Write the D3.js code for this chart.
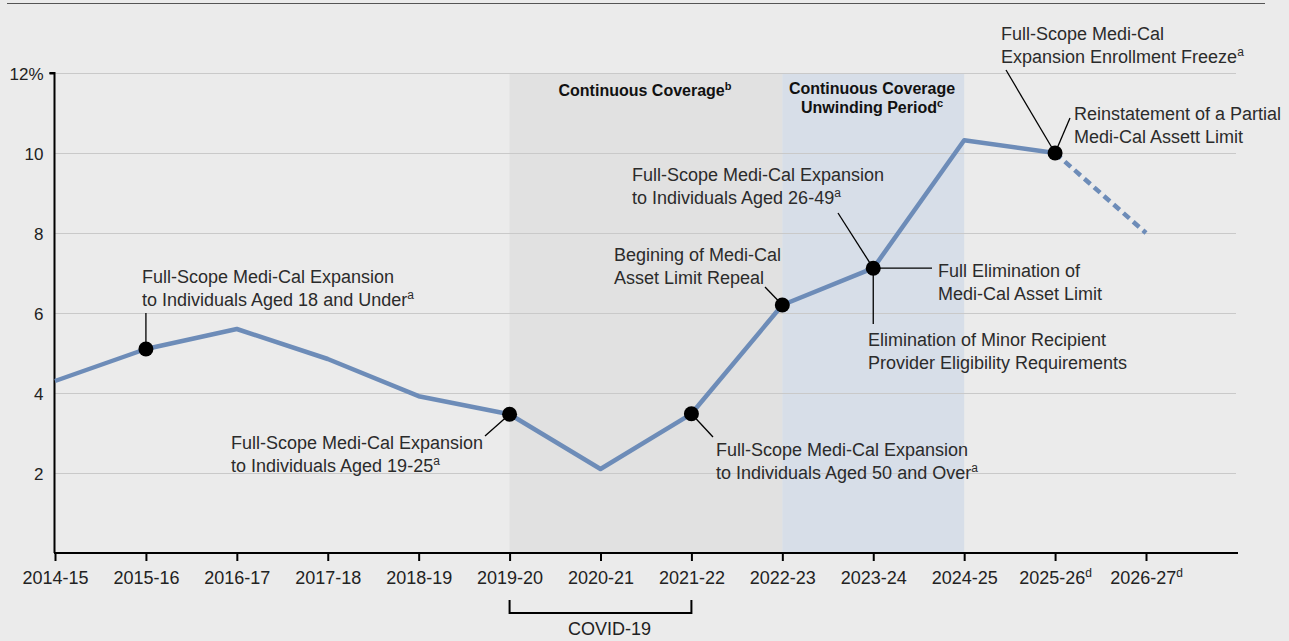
<!DOCTYPE html>
<html lang="en">
<head>
<meta charset="UTF-8">
<script src="https://cdn.jsdelivr.net/npm/d3@7"></script>
<style>
  body { margin: 0; background: #ebebeb; }
  svg { display: block; font-family: "Liberation Sans", Arial, sans-serif; }
</style>
</head>
<body>
<svg width="1289" height="641"></svg>
<script>
// data
const years = ['2014-15','2015-16','2016-17','2017-18','2018-19','2019-20','2020-21',
               '2021-22','2022-23','2023-24','2024-25','2025-26','2026-27'];
const yearSup = ['','','','','','','','','','','','d','d'];
const rates = [4.3, 5.1, 5.6, 4.85, 3.92, 3.47, 2.1, 3.48, 6.2, 7.12, 10.32, 10.0, 8.0];
const yTicks = [2, 4, 6, 8, 10, 12];
const projectedFrom = '2025-26';
const markerYears = ['2015-16','2019-20','2021-22','2022-23','2023-24','2025-26'];

const svg = d3.select('svg');

const x = d3.scalePoint().domain(years).range([55, 1146]);
const y = d3.scaleLinear().domain([0, 12]).range([553, 73]);

const ink = '#2b2b2b';

// top rule
svg.append('line').attr('x1', 7).attr('x2', 1265).attr('y1', 3.5).attr('y2', 3.5)
  .attr('stroke', '#555').attr('stroke-width', 1.2);

// shaded periods
svg.append('rect').attr('x', x('2019-20')).attr('y', y(12))
  .attr('width', x('2022-23') - x('2019-20')).attr('height', y(0) - y(12)).attr('fill', '#e1e1e1');
svg.append('rect').attr('x', x('2022-23')).attr('y', y(12))
  .attr('width', x('2024-25') - x('2022-23')).attr('height', y(0) - y(12)).attr('fill', '#d7dee8');

// grid
svg.append('g').selectAll('line').data(yTicks).enter().append('line')
  .attr('x1', 55).attr('x2', 1236)
  .attr('y1', d => y(d) + 0.5).attr('y2', d => y(d) + 0.5)
  .attr('stroke', '#c9c9c9').attr('stroke-width', 1);

// y axis
const yAxis = svg.append('g').attr('transform', 'translate(54.5,0)')
  .call(d3.axisLeft(y).tickValues(yTicks).tickSize(5).tickPadding(6)
    .tickFormat(d => d === 12 ? '12%' : d));
yAxis.attr('font-size', null).attr('font-family', null);
yAxis.select('.domain').attr('d', `M-5,${y(12)}H0V${y(0)}`).attr('stroke', '#000').attr('stroke-width', 2);
yAxis.selectAll('.tick line').attr('stroke', '#000').attr('stroke-width', 2)
  .attr('opacity', d => d === 12 ? 1 : 0);
yAxis.selectAll('.tick text').attr('font-size', 17).attr('fill', '#222').attr('dy', '0.36em');

// x axis
const xAxis = svg.append('g').attr('transform', `translate(0,${y(0)})`)
  .call(d3.axisBottom(x).tickSize(8).tickPadding(10));
xAxis.attr('font-size', null).attr('font-family', null);
xAxis.select('.domain').attr('d', 'M54,0H1238').attr('stroke', '#000').attr('stroke-width', 2);
xAxis.selectAll('.tick line').attr('stroke', '#000').attr('stroke-width', 2);
xAxis.selectAll('.tick text').attr('font-size', 18).attr('fill', '#222')
  .each(function(d) {
    const sup = yearSup[years.indexOf(d)];
    if (sup) {
      d3.select(this).append('tspan').attr('baseline-shift', 'super')
        .attr('font-size', 12).text(sup);
    }
  });

// COVID bracket
svg.append('path')
  .attr('d', `M${x('2019-20')},600V613H${x('2021-22')}V600`)
  .attr('fill', 'none').attr('stroke', '#000').attr('stroke-width', 2);
svg.append('text').attr('x', 568).attr('y', 635)
  .attr('font-size', 18).attr('fill', '#222').text('COVID-19');

// line
const idx = years.indexOf(projectedFrom);
const line = d3.line().x(d => x(d[0])).y(d => y(d[1]));
const pts = years.map((yr, i) => [yr, rates[i]]);
svg.append('path').attr('d', line(pts.slice(0, idx + 1)))
  .attr('fill', 'none').attr('stroke', '#6d8cb8').attr('stroke-width', 4.5)
  .attr('stroke-linejoin', 'round');
svg.append('path').attr('d', line(pts.slice(idx)))
  .attr('fill', 'none').attr('stroke', '#6d8cb8').attr('stroke-width', 4.5)
  .attr('stroke-dasharray', '8,5');

function label(lines, px, py, opts = {}) {
  const t = svg.append('text').attr('x', px).attr('y', py)
    .attr('font-size', opts.size || 18).attr('fill', opts.fill || ink)
    .attr('font-weight', opts.bold ? 'bold' : null)
    .attr('text-anchor', opts.anchor || 'start');
  lines.forEach((ln, i) => {
    const ts = t.append('tspan').attr('x', px).attr('dy', i === 0 ? 0 : (opts.lh || 22.5));
    ts.append('tspan').text(ln[0]);
    if (ln[1]) ts.append('tspan').attr('baseline-shift', 'super')
      .attr('font-size', opts.bold ? 11 : 12).text(ln[1]);
  });
}

// period labels
label([['Continuous Coverage', 'b']], 645, 96, { bold: true, size: 16, anchor: 'middle', fill: '#111' });
label([['Continuous Coverage'], ['Unwinding Period', 'c']], 872, 94,
  { bold: true, size: 16, anchor: 'middle', fill: '#111', lh: 19 });

// leader lines
const leaders = [
  [x('2015-16'), 313, x('2015-16'), y(5.1)],
  [485, 436, x('2019-20'), y(3.47)],
  [713, 437, x('2021-22'), y(3.48)],
  [765, 287, x('2022-23'), y(6.2)],
  [838, 213, x('2023-24'), y(7.12)],
  [932, y(7.12), x('2023-24'), y(7.12)],
  [x('2023-24'), 324, x('2023-24'), y(7.12)],
  [1006, 70, x('2025-26'), y(10.0)],
  [1070, 118, x('2025-26'), y(10.0)]
];
svg.append('g').selectAll('line').data(leaders).enter().append('line')
  .attr('x1', d => d[0]).attr('y1', d => d[1]).attr('x2', d => d[2]).attr('y2', d => d[3])
  .attr('stroke', '#000').attr('stroke-width', 1.3);

// markers
svg.append('g').selectAll('circle').data(markerYears).enter().append('circle')
  .attr('cx', d => x(d)).attr('cy', d => y(rates[years.indexOf(d)]))
  .attr('r', 7.5).attr('fill', '#000');

// annotations
label([['Full-Scope Medi-Cal Expansion'], ['to Individuals Aged 18 and Under', 'a']], 142, 283);
label([['Full-Scope Medi-Cal Expansion'], ['to Individuals Aged 19-25', 'a']], 231, 449);
label([['Full-Scope Medi-Cal Expansion'], ['to Individuals Aged 26-49', 'a']], 632, 181);
label([['Begining of Medi-Cal'], ['Asset Limit Repeal']], 614, 261);
label([['Full Elimination of'], ['Medi-Cal Asset Limit']], 938, 277);
label([['Elimination of Minor Recipient'], ['Provider Eligibility Requirements']], 868, 346);
label([['Full-Scope Medi-Cal Expansion'], ['to Individuals Aged 50 and Over', 'a']], 716, 456);
label([['Full-Scope Medi-Cal'], ['Expansion Enrollment Freeze', 'a']], 1001, 40);
label([['Reinstatement of a Partial'], ['Medi-Cal Assett Limit']], 1074, 120);
</script>
</body>
</html>
